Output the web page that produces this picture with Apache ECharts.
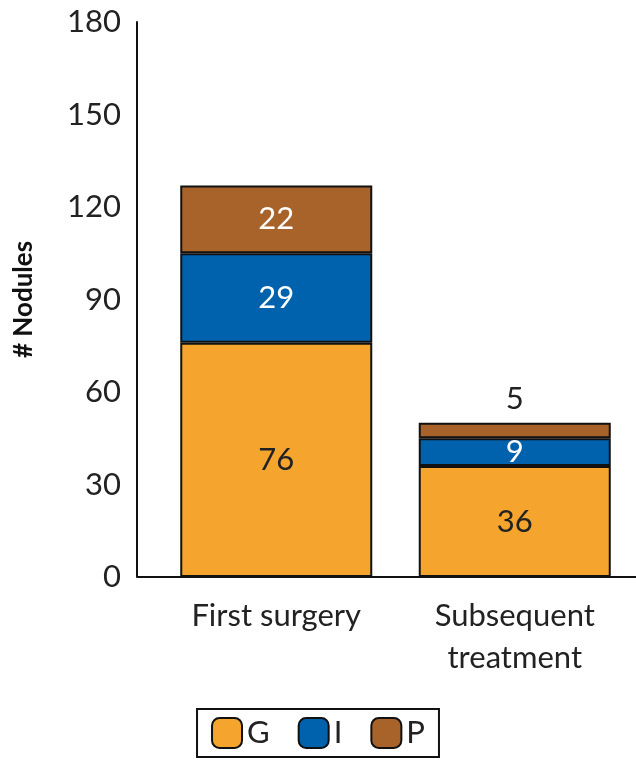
<!DOCTYPE html>
<html><head><meta charset="utf-8">
<script src="https://cdn.jsdelivr.net/npm/echarts@6/dist/echarts.min.js"></script>
<style>html,body{margin:0;padding:0;background:#fff}#c{width:636px;height:761px}</style>
</head><body><div id="c"></div>
<script>
const categories = ['First surgery', 'Subsequent\ntreatment'];
const gValues = [76, 36];
const iValues = [29, 9];
const pValues = [22, 5];
const yTicks = [0, 30, 60, 90, 120, 150, 180];
const chart = echarts.init(document.getElementById('c'));
const F = 'Lato, "Open Sans", sans-serif';
function ser(name, data, color, labelColor, pos) {
  return {
    name, type: 'bar', stack: 's', data, barWidth: 192,
    itemStyle: { color, borderColor: '#111', borderWidth: 2 },
    label: { show: true, position: 'inside', color: labelColor, fontFamily: F, fontSize: 31,
      formatter: p => p.value }
  };
}
const p = ser('P', pValues, '#A8632A', '#fff');
p.data = pValues.map((v, i) => i === 1 ? { value: v, label: { position: 'top', color: '#222', distance: 8 } } : v);
chart.setOption({
  animation: false,
  grid: { left: 157, right: 2, top: 22, bottom: 184 },
  xAxis: { type: 'category', data: categories, axisLine: { show: false }, axisTick: { show: false },
    axisLabel: { color: '#222', fontFamily: F, fontSize: 31, margin: 18, lineHeight: 42 } },
  yAxis: { type: 'value', min: 0, max: 180, interval: 30, offset: 20,
    name: '# Nodules', nameLocation: 'middle', nameGap: 100,
    nameTextStyle: { fontFamily: F, fontWeight: 'bold', fontSize: 26, color: '#111' },
    axisLine: { show: true, lineStyle: { color: '#111', width: 2 } }, axisTick: { show: false },
    splitLine: { show: false },
    axisLabel: { color: '#222', fontFamily: F, fontSize: 31, margin: 16, formatter: v => yTicks.includes(v) ? v : '' } },
  legend: { bottom: 4, left: 'center', itemWidth: 30, itemHeight: 30, itemGap: 28,
    borderColor: '#111', borderWidth: 2, padding: [8, 14],
    textStyle: { fontFamily: F, fontSize: 31, color: '#222' },
    data: ['G', 'I', 'P'] },
  graphic: [{ type: 'line', shape: { x1: 137, y1: 577, x2: 636, y2: 577 }, style: { stroke: '#111', lineWidth: 2 } }],
  series: [ser('G', gValues, '#F5A42D', '#222'), ser('I', iValues, '#0061AC', '#fff'), p]
});
</script></body></html>
